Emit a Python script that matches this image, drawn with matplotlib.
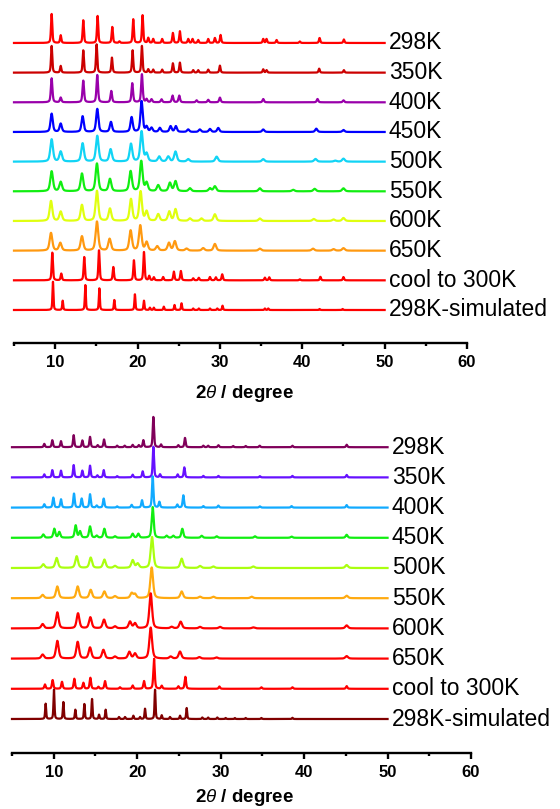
import numpy as np
import matplotlib
matplotlib.use("Agg")
import matplotlib.pyplot as plt
from matplotlib.ticker import MultipleLocator

plt.rcParams['font.family'] = ['Liberation Sans', 'DejaVu Sans']
plt.rcParams['mathtext.fontset'] = 'custom'
plt.rcParams['mathtext.it'] = 'Liberation Sans:italic'
plt.rcParams['mathtext.rm'] = 'Liberation Sans:bold'

# ---- data: (2theta, height) peaks ----
labels = ['298K', '350K', '400K', '450K', '500K', '550K', '600K', '650K',
          'cool to 300K', '298K-simulated']

top_298 = [(9.57, 29), (10.67, 7.7), (13.41, 22.7), (15.15, 27), (16.93, 16), (17.8, 1.5),
           (19.48, 23.7), (20.61, 27.7), (21.30, 5), (21.90, 4), (22.99, 4), (24.29, 10),
           (25.14, 11.7), (26.15, 4), (26.68, 4), (27.36, 3), (28.58, 4), (29.39, 5),
           (30.08, 8), (35.26, 4), (35.66, 4), (36.88, 3), (39.7, 1.5), (42.1, 5), (45.05, 3.5)]
top_350 = [(9.57, 26.7), (10.67, 6.7), (13.41, 22.3), (15.03, 28.3), (16.89, 15), (19.40, 22.3),
           (20.53, 26.7), (21.30, 3.3), (21.90, 3), (22.99, 3), (24.29, 9.3), (25.14, 10),
           (26.76, 2.5), (27.36, 2.5), (28.58, 3), (30.00, 7), (35.26, 3.3), (35.66, 2.5),
           (42.05, 4), (45.05, 2.5)]
top_400 = [(9.57, 24), (10.67, 4.7), (13.41, 21.7), (15.11, 27.3), (16.81, 11.3), (19.36, 19),
           (20.53, 28), (21.10, 3), (21.70, 3), (22.91, 3), (24.25, 6.7), (25.06, 6.7),
           (27.17, 2), (28.58, 2.5), (30.00, 4.7), (35.26, 3.3), (41.85, 3.3), (45.0, 2)]
top_450 = [(9.57, 18.3), (10.67, 8.3), (13.33, 15.7), (15.11, 23), (16.77, 10), (19.28, 14.7),
           (20.49, 30.7), (21.10, 5), (21.70, 4), (22.71, 4), (24.01, 5.7), (24.65, 5.7),
           (26.15, 2.5), (27.56, 2.5), (28.79, 3), (29.80, 4), (35.26, 2.5), (41.7, 3.3), (45.0, 2)]
top_500 = [(9.57, 22.3), (10.67, 10), (13.33, 18.3), (15.11, 25.7), (16.73, 12.3), (19.20, 17.7),
           (20.49, 30), (21.10, 7.7), (22.63, 5), (23.73, 5), (24.61, 10), (26.15, 2.5),
           (29.60, 5), (35.26, 2.5), (41.6, 2.7), (44.0, 1), (45.0, 3)]
top_550 = [(9.57, 20), (10.67, 9.3), (13.25, 17.7), (15.07, 27.7), (16.65, 12.3), (19.16, 20),
           (20.45, 30), (21.10, 8.3), (22.51, 6), (23.93, 8.3), (24.61, 10), (26.36, 3),
           (28.79, 3), (29.39, 5), (34.85, 3), (38.9, 1.5), (41.5, 2.5), (45.0, 3)]
top_600 = [(9.49, 20), (10.67, 9.3), (13.25, 16), (15.07, 30), (16.65, 12.3), (19.20, 21.7),
           (20.37, 29.3), (21.10, 9.3), (22.51, 6.7), (23.85, 9.3), (24.61, 11.7), (26.36, 2.5),
           (27.76, 2.5), (29.39, 6.7), (34.85, 2.5), (41.4, 2), (43.8, 1.5), (45.0, 3)]
top_650 = [(9.49, 17.7), (10.62, 7.7), (13.25, 14.3), (15.07, 29), (16.61, 11.7), (19.16, 20),
           (20.33, 25), (21.10, 8.3), (22.39, 4.3), (23.81, 7.7), (24.53, 9.3), (25.95, 2),
           (27.97, 2.5), (29.39, 6.7), (34.85, 2), (41.3, 2), (43.8, 1.5), (45.0, 2.5)]
top_cool = [(9.65, 27.7), (10.74, 6.7), (13.53, 23.3), (15.32, 30), (17.06, 13.3), (19.56, 20),
            (20.78, 28.3), (21.42, 4.3), (21.98, 3), (23.11, 3.3), (24.41, 8.7), (25.26, 9.3),
            (26.76, 2), (27.44, 2.5), (28.79, 3.3), (29.51, 3), (30.28, 6), (35.46, 2.7),
            (35.99, 3), (39.7, 1), (42.2, 3.5), (45.0, 3.3)]
top_sim = [(9.73, 28.3), (10.91, 9.3), (13.66, 25), (15.36, 21.7), (17.18, 10), (19.68, 15.7),
           (20.78, 9.3), (21.50, 2.3), (21.98, 2.3), (23.19, 3.3), (24.49, 5), (25.34, 6.7),
           (26.76, 1.5), (27.44, 1.5), (28.79, 1.5), (29.68, 1.5), (30.32, 4.3), (35.46, 1.5),
           (35.87, 1.5), (42.1, 1), (44.9, 1)]

bot_298 = [(8.87, 3.3), (9.83, 7), (10.87, 6), (12.39, 12), (13.43, 6.7), (14.35, 10.3),
           (15.27, 2), (16.03, 7.7), (17.6, 1.5), (18.5, 1.5), (19.46, 2.3), (20.2, 2),
           (20.74, 7), (21.94, 30.3), (22.86, 2.7), (24.93, 2), (25.73, 9.3), (27.93, 1.5),
           (28.5, 1.5), (29.73, 2), (31.5, 1.2), (33.0, 1.2), (34.68, 1.5), (38.6, 1.5), (45.1, 2.5)]
bot_350 = [(8.87, 3), (9.83, 7.3), (10.87, 6.7), (12.39, 12.3), (13.43, 6.7), (14.35, 11.7),
           (15.23, 2), (15.99, 7.3), (17.6, 1.2), (19.46, 2.7), (20.66, 6), (21.94, 30.7),
           (22.74, 3), (24.85, 3), (25.65, 10), (27.93, 1.5), (29.73, 1.5), (34.7, 1.2),
           (38.6, 1.5), (45.1, 2.5)]
bot_400 = [(8.87, 3.3), (9.95, 10), (10.87, 8.3), (12.43, 14), (13.35, 9), (14.35, 13.3),
           (15.15, 2), (15.99, 9), (17.6, 1.2), (19.34, 2.7), (20.58, 7.3), (21.86, 31.3),
           (22.66, 5.7), (24.81, 3), (25.53, 12.3), (27.93, 1.5), (29.73, 2), (34.7, 1.2),
           (38.5, 1.5), (45.1, 2.5)]
bot_450 = [(8.75, 3.3), (10.07, 9), (10.67, 5.7), (12.63, 12.3), (13.15, 6.3), (14.35, 11.3),
           (15.15, 2), (16.07, 9), (17.34, 1.5), (19.46, 4), (20.14, 4), (21.86, 30.7),
           (23.53, 2), (24.33, 2), (25.41, 9), (27.73, 2), (29.53, 1.5), (34.12, 1.5),
           (38.5, 1.2), (45.1, 3)]
bot_500 = [(8.75, 3.7), (10.35, 10), (12.75, 11.7), (14.43, 10.3), (16.07, 8.3), (17.34, 2),
           (19.46, 7.7), (20.06, 4.3), (21.78, 31), (25.33, 9.3), (27.53, 2), (29.13, 1.5),
           (33.92, 1.5), (45.1, 3)]
bot_550 = [(8.67, 3.3), (10.43, 11.7), (12.87, 11.7), (14.43, 8.3), (16.07, 6.7), (17.34, 2),
           (19.34, 5), (19.74, 4), (21.74, 30.7), (25.33, 6.7), (27.53, 1.5), (29.13, 1.5),
           (33.72, 1.5), (45.1, 2.5)]
bot_600 = [(8.67, 4.3), (10.43, 16), (12.91, 15), (14.39, 11), (16.03, 8.7), (17.34, 2),
           (19.14, 6.7), (19.74, 5), (21.62, 35), (24.13, 1.5), (25.21, 6.7), (27.53, 1.5),
           (29.93, 1.5), (33.92, 1), (45.1, 3)]
bot_650 = [(8.67, 4), (10.43, 17.7), (12.87, 16.7), (14.35, 11), (15.95, 8.7), (17.34, 2),
           (19.06, 6.7), (19.74, 5), (21.62, 31), (24.01, 2), (25.13, 7), (27.45, 1.5),
           (29.5, 1.2), (45.1, 2.5)]
bot_cool = [(8.95, 4.3), (9.87, 8.7), (10.99, 7), (12.47, 10), (13.55, 6), (14.39, 11),
            (15.35, 2), (16.15, 7.7), (17.94, 1.5), (19.46, 3.3), (20.82, 7.7), (22.02, 30),
            (22.94, 3), (24.93, 2.5), (25.77, 12), (29.85, 2.3), (34.88, 1.5), (38.6, 1.5), (45.1, 2.7)]
bot_sim = [(9.03, 15.3), (10.03, 29.3), (11.15, 17), (12.59, 9.3), (13.67, 15), (14.59, 20),
           (15.43, 4.3), (16.22, 9.3), (17.82, 2), (18.54, 2), (19.54, 3.3), (20.34, 2),
           (20.94, 10.3), (22.14, 29.3), (22.94, 3.7), (23.93, 2), (25.13, 3.3), (25.93, 11),
           (27.8, 1.5), (28.5, 1.5), (29.6, 1.5), (30.6, 1), (31.7, 1), (33.0, 1), (34.88, 1), (38.6, 1.2)]

top_sets = [top_298, top_350, top_400, top_450, top_500, top_550, top_600, top_650, top_cool, top_sim]
bot_sets = [bot_298, bot_350, bot_400, bot_450, bot_500, bot_550, bot_600, bot_650, bot_cool, bot_sim]

# half widths of the peaks in each pattern (deg)
top_widths = [0.09, 0.09, 0.11, 0.16, 0.19, 0.19, 0.19, 0.19, 0.09, 0.07]
bot_widths = [0.09, 0.09, 0.1, 0.14, 0.19, 0.19, 0.19, 0.19, 0.1, 0.07]

top_colors = ['#FF0000', '#CC0000', '#9900AA', '#0000FF', '#11D4F5', '#11EE11',
              '#E0FF10', '#FF9910', '#FF0000', '#FF0000']
bot_colors = ['#80005A', '#6611FF', '#11AAFF', '#11EE11', '#AAFF10', '#FFAA10',
              '#FF0000', '#FF0000', '#FF0000', '#800000']


def profile(x, peaks, w):
    y = np.zeros_like(x)
    for p, h in peaks:
        d = (x - p) / w
        y += h * (0.5 / (1 + d ** 2) + 0.5 * np.exp(-np.log(2) * d ** 2))
    return y


def draw_panel(ax, sets, widths, colors, base, step, top):
    x = np.linspace(5, 50, 4000)
    n = len(sets)
    for i in range(n):
        off = base + step * (n - 1 - i)
        ax.plot(x, off + profile(x, sets[i], widths[i]), color=colors[i], lw=1.6,
                solid_joinstyle='round', clip_on=False)
        ax.text(50.5, off, labels[i], fontsize=16.5, va='center', ha='left')
    ax.set_xlim(5, 60)
    ax.set_ylim(0, top)
    for s in ['left', 'right', 'top']:
        ax.spines[s].set_visible(False)
    ax.spines['bottom'].set_linewidth(1.7)
    ax.set_yticks([])
    ax.xaxis.set_major_locator(MultipleLocator(10))
    ax.xaxis.set_minor_locator(MultipleLocator(5))
    ax.tick_params(axis='x', which='major', length=4, width=1.7, direction='out',
                   labelsize=12, pad=5)
    ax.tick_params(axis='x', which='minor', length=2.5, width=1.7, direction='out')
    ax.set_xticks([10, 20, 30, 40, 50, 60])
    for t in ax.get_xticklabels():
        t.set_fontweight('bold')


fig = plt.figure(figsize=(5.6, 8.09), dpi=100)

ax1 = fig.add_axes([14 / 560, 1 - 342.5 / 809, 453 / 560, 337.5 / 809])
draw_panel(ax1, top_sets, top_widths, top_colors, 32.5, 29.67, 337.5)

ax2 = fig.add_axes([12 / 560, 1 - 752.5 / 809, 459 / 560, 347.5 / 809])
draw_panel(ax2, bot_sets, bot_widths, bot_colors, 33.5, 30.2, 347.5)

xlabel = r'2$\theta$ / degree'
fig.text(245 / 560, 1 - 398 / 809, xlabel, fontsize=13.5, fontweight='bold',
         ha='center', va='baseline')
fig.text(245 / 560, 1 - 802 / 809, xlabel, fontsize=13.5, fontweight='bold',
         ha='center', va='baseline')

fig.savefig('out.png', dpi=100)
